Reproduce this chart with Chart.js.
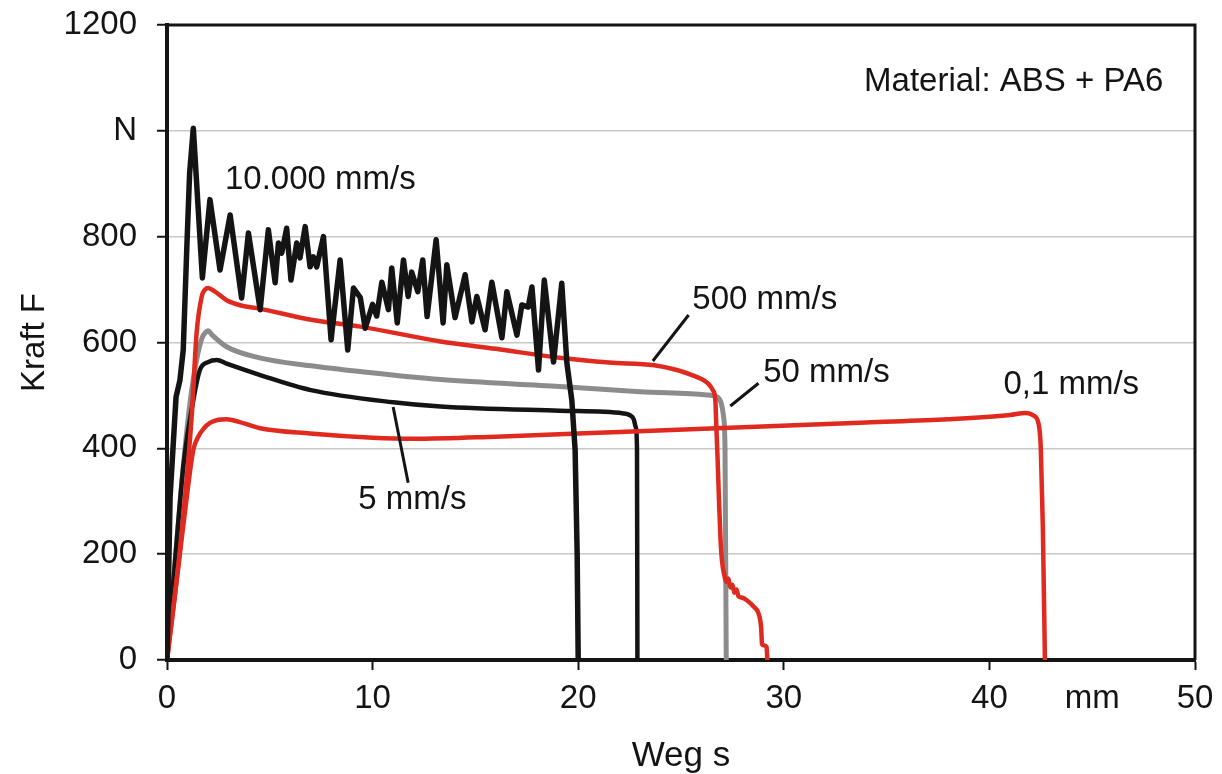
<!DOCTYPE html>
<html>
<head>
<meta charset="utf-8">
<title>Kraft-Weg-Verlauf ABS + PA6</title>
<script src="https://cdn.jsdelivr.net/npm/chart.js@4.4.1/dist/chart.umd.min.js"></script>
<style>
  html, body { margin: 0; padding: 0; background: #fff; }
  #wrap { width: 1222px; height: 774px; }
</style>
</head>
<body>
<div id="wrap"><canvas id="kraftChart" width="1222" height="774"></canvas></div>
<script>
// Weg s in mm, Kraft F in N - one pair of arrays per Prüfgeschwindigkeit

// 10.000 mm/s (stark schwingend)
const v10000X = [0, 0.15, 0.44, 0.63, 0.79, 0.96, 1.1, 1.28, 1.72, 2.09, 2.58, 3.07, 3.63, 3.96, 4.53, 4.93, 5.26, 5.42, 5.58, 5.82,
  6.03, 6.31, 6.47, 6.72, 6.96, 7.12, 7.28, 7.61, 7.98, 8.42, 8.79, 9.07, 9.4, 9.64, 10.0, 10.2, 10.45, 10.77, 10.93, 11.2,
  11.5, 11.73, 11.9, 12.2, 12.44, 12.65, 13.09, 13.43, 13.61, 14.01, 14.5, 14.83, 15.07, 15.47, 15.8, 16.29, 16.53, 17.02, 17.26, 17.57,
  17.75, 18.07, 18.35, 18.8, 19.2, 19.45, 19.69, 19.85, 19.95, 20.0];
const v10000Y = [0, 308, 497, 529, 586, 775, 920, 1005, 722, 870, 737, 841, 684, 807, 662, 813, 713, 788, 769, 816,
  718, 788, 760, 819, 743, 762, 743, 800, 605, 756, 586, 703, 685, 627, 672, 650, 714, 662, 741, 637,
  756, 687, 733, 696, 756, 649, 794, 637, 747, 647, 728, 639, 687, 624, 714, 609, 696, 614, 671, 667,
  705, 548, 718, 563, 712, 561, 491, 397, 200, 0];

// 500 mm/s
const v500X = [0, 0.63, 1.2, 1.44, 1.69, 1.85, 2.0, 2.3, 2.9, 3.6, 4.5, 7.0, 9.4, 13.3, 16.0, 19.1, 21.5, 23.7, 24.8, 25.5,
  25.94, 26.3, 26.55, 26.67, 26.72, 26.78, 26.85, 26.92, 27.0, 27.1, 27.2, 27.3, 27.4, 27.5, 27.6, 27.7, 27.8, 27.95, 28.2, 28.53,
  28.77, 28.9, 28.94, 29.0, 29.16, 29.2];
const v500Y = [0, 208, 460, 618, 687, 700, 703, 697, 680, 670, 664, 643, 630, 602, 588, 571, 562, 557, 548, 539,
  532, 523, 510, 491, 440, 380, 300, 230, 185, 162, 148, 154, 137, 142, 127, 133, 120, 118, 113, 101,
  88, 60, 30, 28, 25, 0];

// 50 mm/s
const v50X = [0, 0.4, 0.79, 1.1, 1.44, 1.7, 1.9, 2.0, 2.2, 2.9, 4.5, 7.0, 9.4, 13.3, 19.1, 23.0, 26.26, 26.7, 26.95, 27.07, 27.14, 27.2];
const v50Y = [0, 190, 365, 480, 567, 608, 620, 622, 614, 592, 571, 556, 545, 530, 517, 507, 501, 498, 486, 460, 400, 0];

// 5 mm/s
const v5X = [0, 0.4, 0.79, 1.28, 1.6, 2.0, 2.42, 2.9, 4.5, 7.0, 11.0, 13.3, 19.1, 22.2, 22.5, 22.7, 22.8, 22.86, 22.88];
const v5Y = [0, 190, 365, 491, 548, 563, 567, 560, 539, 510, 487, 479, 471, 466, 463, 455, 440, 400, 0];

// 0,1 mm/s
const v01X = [0, 0.5, 1.0, 1.28, 1.52, 1.8, 2.09, 2.5, 2.9, 3.5, 4.53, 6.96, 10, 12, 16, 22, 28, 34, 38, 41.0,
  41.75, 42.15, 42.4, 42.5, 42.6, 42.7];
const v01Y = [0, 160, 320, 397, 422, 438, 448, 454, 455, 450, 438, 428, 420, 418, 422, 431, 440, 449, 455, 463,
  467, 462, 445, 400, 250, 0];

const yTicks = [0, 200, 400, 600, 800, 1000, 1200];
const yTickText = ["0", "200", "400", "600", "800", "N", "1200"];
const xTicks = [0, 10, 20, 30, 40, 45, 50];
const xTickText = ["0", "10", "20", "30", "40", "mm", "50"];

// Beschriftungen direkt im Diagramm (Text, Lage in Datenkoordinaten, optional Hinweislinie)
const curveLabels = [
  { text: "10.000 mm/s", x: 2.82, y: 907 },
  { text: "500 mm/s", x: 25.55, y: 680, line: [25.37, 652, 23.63, 565] },
  { text: "50 mm/s", x: 29.0, y: 543, line: [28.77, 523, 27.4, 480] },
  { text: "5 mm/s", x: 9.3, y: 302, line: [11.0, 478, 11.73, 335] },
  { text: "0,1 mm/s", x: 40.68, y: 520 }
];
const materialText = "Material: ABS + PA6";

const FONT = "'Liberation Sans', Arial, Helvetica, sans-serif";
const RED = "#e12a1f";
const BLACK = "#141414";
const GREY = "#8c8c8c";

const toPoints = (xs, ys) => xs.map((x, i) => ({ x: x, y: ys[i] }));

function curve(label, xs, ys, color, width, order, smooth) {
  return {
    label: label,
    data: toPoints(xs, ys),
    borderColor: color,
    borderWidth: width,
    showLine: true,
    pointRadius: 0,
    tension: 0,
    cubicInterpolationMode: smooth ? "monotone" : "default",
    borderJoinStyle: "round",
    borderCapStyle: "round",
    order: order
  };
}

// Rahmen oben/rechts und Kurvenbeschriftungen
const framePlugin = {
  id: "frameAndLabels",
  afterDatasetsDraw(chart) {
    const { ctx, chartArea: a } = chart;
    const xs = chart.scales.x, ys = chart.scales.y;
    ctx.save();
    ctx.strokeStyle = BLACK;
    ctx.lineWidth = 3;
    ctx.beginPath();
    ctx.moveTo(a.left - 2, a.top);
    ctx.lineTo(a.right, a.top);
    ctx.lineTo(a.right, a.bottom);
    ctx.stroke();

    ctx.font = "33px " + FONT;
    ctx.fillStyle = BLACK;
    ctx.textBaseline = "middle";
    ctx.textAlign = "left";
    curveLabels.forEach(l => {
      ctx.fillText(l.text, xs.getPixelForValue(l.x), ys.getPixelForValue(l.y));
      if (l.line) {
        ctx.lineWidth = 3;
        ctx.beginPath();
        ctx.moveTo(xs.getPixelForValue(l.line[0]), ys.getPixelForValue(l.line[1]));
        ctx.lineTo(xs.getPixelForValue(l.line[2]), ys.getPixelForValue(l.line[3]));
        ctx.stroke();
      }
    });
    ctx.textAlign = "right";
    ctx.fillText(materialText, xs.getPixelForValue(48.46), ys.getPixelForValue(1093));
    ctx.restore();
  }
};

new Chart(document.getElementById("kraftChart"), {
  type: "scatter",
  data: {
    datasets: [
      curve("10.000 mm/s", v10000X, v10000Y, BLACK, 5.5, 0, false),
      curve("500 mm/s", v500X, v500Y, RED, 4.5, 1, true),
      curve("0,1 mm/s", v01X, v01Y, RED, 4.5, 2, true),
      curve("5 mm/s", v5X, v5Y, BLACK, 4.5, 3, true),
      curve("50 mm/s", v50X, v50Y, GREY, 5, 4, true)
    ]
  },
  options: {
    responsive: false,
    animation: false,
    layout: { padding: { left: 0, right: 27, top: 25, bottom: 0 } },
    plugins: { legend: { display: false }, tooltip: { enabled: false } },
    scales: {
      x: {
        type: "linear",
        min: 0,
        max: 50,
        afterBuildTicks: s => { s.ticks = xTicks.map(v => ({ value: v })); },
        afterFit: s => { s.height = 114; s.paddingLeft = 0; s.paddingRight = 0; },
        ticks: {
          autoSkip: false,
          maxRotation: 0,
          padding: 9,
          color: BLACK,
          font: { family: FONT, size: 33 },
          callback: v => xTickText[xTicks.indexOf(v)]
        },
        grid: {
          drawOnChartArea: false,
          tickLength: 10,
          tickWidth: 2,
          tickColor: c => (c.tick && c.tick.value === 45 ? "transparent" : BLACK)
        },
        border: { color: BLACK, width: 4 },
        title: {
          display: true,
          text: "Weg s",
          color: BLACK,
          font: { family: FONT, size: 35, lineHeight: 1 },
          padding: { top: 0, bottom: 0 }
        }
      },
      y: {
        type: "linear",
        min: 0,
        max: 1200,
        afterBuildTicks: s => { s.ticks = yTicks.map(v => ({ value: v })); },
        afterFit: s => { s.width = 167; s.paddingTop = 0; s.paddingBottom = 0; },
        ticks: {
          padding: 20,
          color: BLACK,
          font: { family: FONT, size: 33 },
          callback: v => yTickText[yTicks.indexOf(v)]
        },
        grid: {
          color: c => (c.tick && c.tick.value > 0 && c.tick.value < 1200 ? "#c8c8c8" : "transparent"),
          lineWidth: 1.5,
          tickLength: 10,
          tickWidth: 2,
          tickColor: BLACK
        },
        border: { color: BLACK, width: 4 },
        title: {
          display: true,
          text: "Kraft F",
          color: BLACK,
          font: { family: FONT, size: 33, lineHeight: 1 },
          padding: { top: 18, bottom: 0 }
        }
      }
    }
  },
  plugins: [framePlugin]
});
</script>
</body>
</html>
